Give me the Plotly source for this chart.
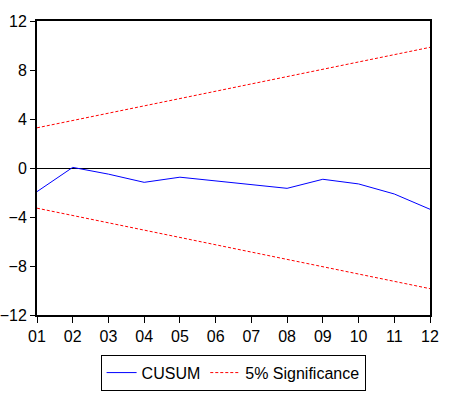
import plotly.graph_objects as go

periods = [1, 2, 3, 4, 5, 6, 7, 8, 9, 10, 11, 12]
tick_labels = ["01", "02", "03", "04", "05", "06", "07", "08", "09", "10", "11", "12"]
cusum = [-1.93, 0.05, -0.5, -1.17, -0.75, -1.05, -1.3, -1.66, -0.92, -1.3, -2.12, -3.37]
upper = [3.28, 3.88, 4.48, 5.08, 5.67, 6.27, 6.87, 7.47, 8.06, 8.66, 9.26, 9.85]
lower = [-3.28, -3.88, -4.48, -5.08, -5.67, -6.27, -6.87, -7.47, -8.06, -8.66, -9.26, -9.85]

font = "Liberation Sans, Arial, sans-serif"

fig = go.Figure()
fig.add_trace(go.Scatter(x=periods, y=cusum, mode="lines", name="CUSUM",
                         line=dict(color="#0000ff", width=1)))
fig.add_trace(go.Scatter(x=periods, y=upper, mode="lines", name="5% Significance",
                         line=dict(color="#ff0000", width=1, dash="3px,2px")))
fig.add_trace(go.Scatter(x=periods, y=lower, mode="lines", name="5% Significance",
                         showlegend=False,
                         line=dict(color="#ff0000", width=1, dash="3px,2px")))

fig.update_layout(
    width=459, height=399,
    margin=dict(l=37, r=29, t=21, b=84, autoexpand=False),
    paper_bgcolor="white", plot_bgcolor="white",
    font=dict(family=font, size=16, color="black"),
    showlegend=True,
    legend=dict(orientation="h", x=0.499, xanchor="center", y=-0.135, yanchor="top",
                bordercolor="black", borderwidth=1, itemwidth=30,
                font=dict(family=font, size=16, color="black"),
                tracegroupgap=0),
)
fig.update_xaxes(range=[1, 12], tickvals=periods, ticktext=tick_labels, automargin=False,
                 showgrid=False, zeroline=False, showline=True, linecolor="black",
                 linewidth=2, mirror=True, ticks="outside", ticklen=6,
                 tickcolor="black", tickwidth=1)
fig.update_yaxes(range=[-12, 12], tickvals=[-12, -8, -4, 0, 4, 8, 12], automargin=False,
                 showgrid=False, zeroline=True, zerolinecolor="black", zerolinewidth=1,
                 showline=True, linecolor="black", linewidth=2, mirror=True,
                 ticks="outside", ticklen=5, tickcolor="black", tickwidth=1)

fig.write_html("out.html", config={"displayModeBar": False},
               post_script="document.body.style.margin='0';")
